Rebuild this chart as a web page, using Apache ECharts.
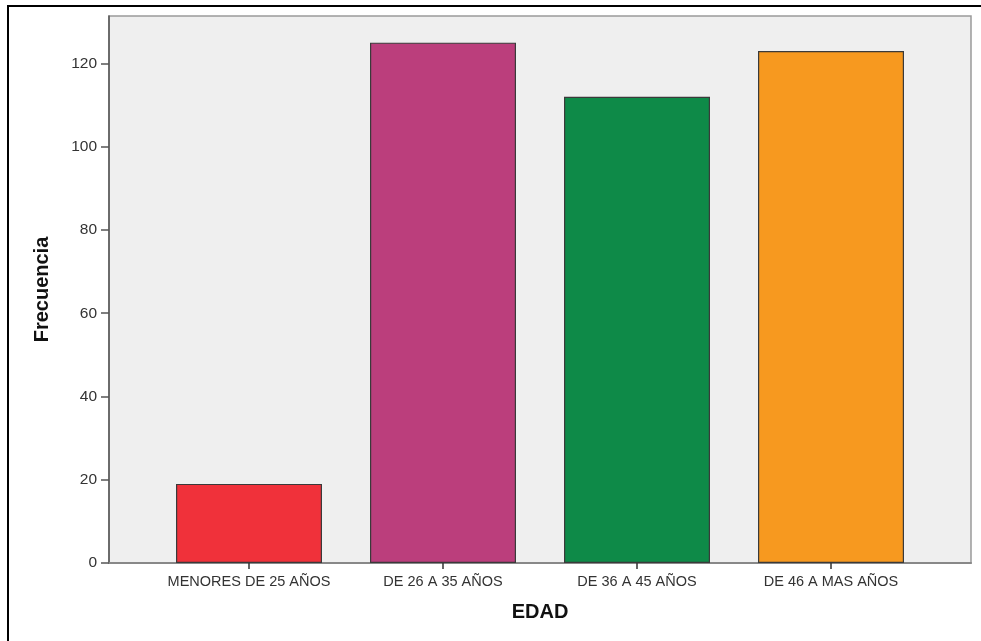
<!DOCTYPE html>
<html>
<head>
<meta charset="utf-8">
<script src="https://cdn.jsdelivr.net/npm/echarts@6/dist/echarts.min.js"></script>
<style>html,body{margin:0;padding:0;background:#fff;}#c{width:981px;height:641px;}</style>
</head>
<body>
<div id="c"></div>
<script>
const categories = ['MENORES DE 25 AÑOS', 'DE 26 A 35 AÑOS', 'DE 36 A 45 AÑOS', 'DE 46 A MAS AÑOS'];
const values = [19, 125, 112, 123];
const barColors = ['#f0313a', '#bb3e7c', '#0e8a48', '#f7991f'];
const yTickStep = 20;
const yMax = 131.4;

const chart = echarts.init(document.getElementById('c'), null, {renderer: 'canvas'});
const font = 'Liberation Sans, Arial, sans-serif';
const option = {
  backgroundColor: '#ffffff',
  animation: false,
  graphic: [{
    type: 'rect', z: -10, silent: true,
    shape: {x: 8, y: 6, width: 1000, height: 700},
    style: {fill: 'none', stroke: '#000', lineWidth: 2}
  }],
  grid: [
    {left: 109, right: 10, top: 16, bottom: 78, show: true, backgroundColor: '#efefef', borderColor: '#9a9a9a', borderWidth: 1.5},
    {left: 152, right: 53, top: 16, bottom: 78}
  ],
  xAxis: [
    {
      gridIndex: 0, type: 'value', min: 0, max: 1,
      axisLine: {show: true, onZero: false, lineStyle: {color: '#888', width: 2}},
      axisTick: {show: false}, axisLabel: {show: false}, splitLine: {show: false},
      name: 'EDAD', nameLocation: 'middle', nameGap: 39,
      nameTextStyle: {fontFamily: font, fontWeight: 'bold', fontSize: 20, color: '#111'}
    },
    {
      gridIndex: 1, type: 'category', data: categories,
      axisLine: {show: false},
      axisTick: {show: true, alignWithLabel: true, interval: 0, length: 6, lineStyle: {color: '#333', width: 1.5}},
      axisLabel: {fontFamily: font, fontSize: 14.5, color: '#333', margin: 11, interval: 0, hideOverlap: false},
      splitLine: {show: false}
    }
  ],
  yAxis: [
    {
      gridIndex: 0, type: 'value', min: 0, max: yMax, interval: yTickStep,
      axisLine: {show: true, lineStyle: {color: '#555', width: 1.5}},
      axisTick: {show: true, length: 8, lineStyle: {color: '#555', width: 1.5}},
      axisLabel: {fontFamily: font, fontSize: 15.5, color: '#333', margin: 12,
        showMaxLabel: false},
      splitLine: {show: false},
      name: 'Frecuencia', nameLocation: 'middle', nameGap: 57,
      nameTextStyle: {fontFamily: font, fontWeight: 'bold', fontSize: 20, color: '#111'}
    },
    {gridIndex: 1, type: 'value', min: 0, max: yMax, interval: yTickStep, show: false}
  ],
  series: [{
    type: 'bar', xAxisIndex: 1, yAxisIndex: 1,
    barWidth: 146,
    data: values.map((v, i) => ({value: v, itemStyle: {color: barColors[i]}})),
    itemStyle: {borderColor: '#3a3a3a', borderWidth: 1.2}
  }]
};
chart.setOption(option);
</script>
</body>
</html>
